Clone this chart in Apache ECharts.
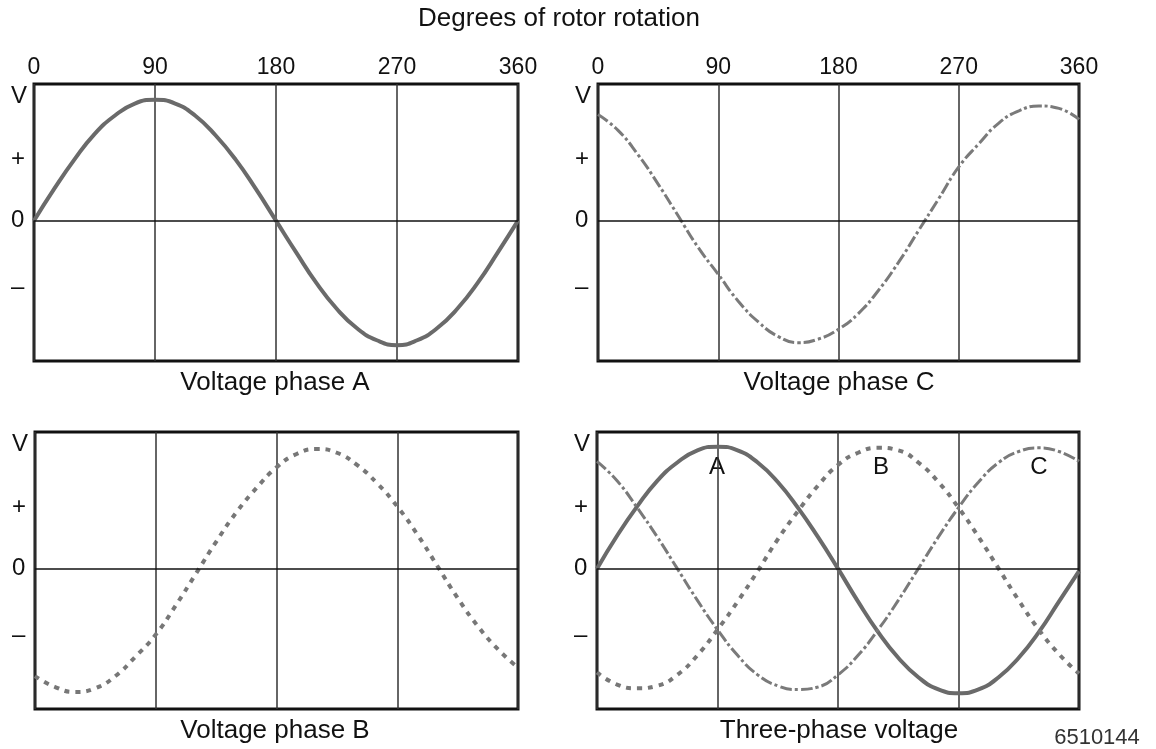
<!DOCTYPE html>
<html>
<head>
<meta charset="utf-8">
<title>Three-phase voltage</title>
<script src="https://cdn.jsdelivr.net/npm/echarts@6/dist/echarts.min.js"></script>
<style>
    html, body { margin: 0; padding: 0; background: #fff; }
    #chart { width: 1156px; height: 749px; }
</style>
</head>
<body>
<div id="chart"></div>
<script>
    // degrees of rotor rotation, sampled every 15
    var degrees = [0, 15, 30, 45, 60, 75, 90, 105, 120, 135, 150, 165, 180,
                   195, 210, 225, 240, 255, 270, 285, 300, 315, 330, 345, 360];
    var xTicks = [0, 90, 180, 270, 360];
    var yTickValues = [1.02, 0.5, 0, -0.55];
    var yTickNames = ['V', '+', '0', '–'];

    // single phase panels
    var phaseA = [0, 0.26, 0.5, 0.71, 0.86, 0.96, 0.99, 0.96, 0.86, 0.7, 0.5, 0.26, 0,
                  -0.26, -0.51, -0.72, -0.88, -0.98, -1.02, -0.98, -0.88, -0.72, -0.51, -0.26, 0];
    var phaseB = [-0.88, -0.97, -1.01, -0.98, -0.88, -0.72, -0.54, -0.3, -0.04, 0.22, 0.46, 0.66, 0.83,
                  0.94, 0.98, 0.95, 0.85, 0.7, 0.51, 0.28, 0.02, -0.24, -0.47, -0.66, -0.81];
    var phaseC = [0.87, 0.74, 0.54, 0.3, 0.04, -0.22, -0.44, -0.66, -0.83, -0.95, -1.0, -0.97, -0.89,
                  -0.76, -0.57, -0.34, -0.08, 0.18, 0.44, 0.63, 0.8, 0.9, 0.94, 0.92, 0.83];

    // three-phase panel
    var threeA = [0, 0.27, 0.51, 0.72, 0.87, 0.97, 1.0, 0.97, 0.87, 0.71, 0.5, 0.26, 0,
                  -0.27, -0.52, -0.73, -0.89, -0.99, -1.02, -0.99, -0.89, -0.73, -0.52, -0.27, -0.02];
    var threeB = [-0.85, -0.95, -0.98, -0.96, -0.87, -0.71, -0.5, -0.27, -0.02, 0.24, 0.47, 0.68, 0.85,
                  0.95, 0.99, 0.97, 0.87, 0.71, 0.5, 0.26, 0, -0.26, -0.5, -0.7, -0.86];
    var threeC = [0.88, 0.72, 0.5, 0.26, 0, -0.26, -0.5, -0.71, -0.87, -0.96, -0.99, -0.97, -0.87,
                  -0.71, -0.5, -0.26, 0, 0.26, 0.5, 0.71, 0.87, 0.96, 0.99, 0.96, 0.88];

    var panelTitles = ['Voltage phase A', 'Voltage phase C', 'Voltage phase B', 'Three-phase voltage'];
    var curveNames = ['A', 'B', 'C'];

    var font = '"Liberation Sans", Arial, Helvetica, sans-serif';
    var ink = '#111';

    var styleA = {color: '#6a6a6a', width: 4, type: 'solid'};
    var styleB = {color: '#777777', width: 4, type: [5, 6]};
    var styleC = {color: '#7a7a7a', width: 3, type: [12, 3, 3, 3]};

    function toPoints(values) {
        return degrees.map(function (d, i) { return [d, values[i]]; });
    }

    var grids = [
        {left: 34, top: 84, width: 484, height: 277},
        {left: 598, top: 84, width: 481, height: 277},
        {left: 35, top: 432, width: 483, height: 277},
        {left: 597, top: 432, width: 482, height: 277}
    ];

    var grid = [], xAxis = [], yAxis = [];
    grids.forEach(function (g, i) {
        grid.push({
            left: g.left, top: g.top, width: g.width, height: g.height,
            show: true, borderColor: ink, borderWidth: 3, backgroundColor: 'transparent'
        });
        xAxis.push({
            gridIndex: i, type: 'value', min: 0, max: 360, interval: 90,
            position: 'top',
            axisLine: {show: false}, axisTick: {show: false},
            axisLabel: {
                show: i < 2, customValues: xTicks, margin: 5,
                fontSize: 23, fontFamily: font, color: ink
            },
            splitLine: {show: true, lineStyle: {color: '#333', width: 1.5}}
        });
        yAxis.push({
            gridIndex: i, type: 'value', min: -1.15, max: 1.12,
            axisLine: {show: false}, axisTick: {show: false},
            splitLine: {show: false},
            axisLabel: {
                customValues: yTickValues, margin: 23, align: 'left',
                fontSize: 24, fontFamily: font, color: ink,
                formatter: function (v) {
                    var k = yTickValues.indexOf(v);
                    return k >= 0 ? yTickNames[k] : '';
                }
            }
        });
    });

    var zeroLine = {
        silent: true, symbol: ['none', 'none'], animation: false,
        label: {show: false},
        lineStyle: {color: ink, width: 1.5, type: 'solid'},
        data: [{yAxis: 0}]
    };

    function curve(idx, values, style, withZero) {
        var s = {
            type: 'line', xAxisIndex: idx, yAxisIndex: idx,
            data: toPoints(values), smooth: true, showSymbol: false,
            lineStyle: style, animation: false, silent: true, z: 3
        };
        if (withZero) s.markLine = zeroLine;
        return s;
    }

    var series = [
        curve(0, phaseA, styleA, true),
        curve(1, phaseC, styleC, true),
        curve(2, phaseB, styleB, true),
        curve(3, threeA, styleA, true),
        curve(3, threeB, styleB, false),
        curve(3, threeC, styleC, false)
    ];

    var textStyle = function (text, x, y, size, color) {
        return {
            type: 'text', x: x, y: y, silent: true,
            style: {
                text: text, fill: color || ink, align: 'center', verticalAlign: 'middle',
                font: size + 'px ' + font
            }
        };
    };

    var graphic = [
        textStyle('Degrees of rotor rotation', 559, 19, 26),
        textStyle(panelTitles[0], 275, 383, 26),
        textStyle(panelTitles[1], 839, 383, 26),
        textStyle(panelTitles[2], 275, 731, 26),
        textStyle(panelTitles[3], 839, 731, 26),
        textStyle(curveNames[0], 717, 467, 24),
        textStyle(curveNames[1], 881, 467, 24),
        textStyle(curveNames[2], 1039, 467, 24),
        textStyle('6510144', 1097, 738, 22, '#333')
    ];

    var chart = echarts.init(document.getElementById('chart'));
    chart.setOption({
        animation: false,
        backgroundColor: '#fff',
        grid: grid,
        xAxis: xAxis,
        yAxis: yAxis,
        series: series,
        graphic: graphic
    });
</script>
</body>
</html>
